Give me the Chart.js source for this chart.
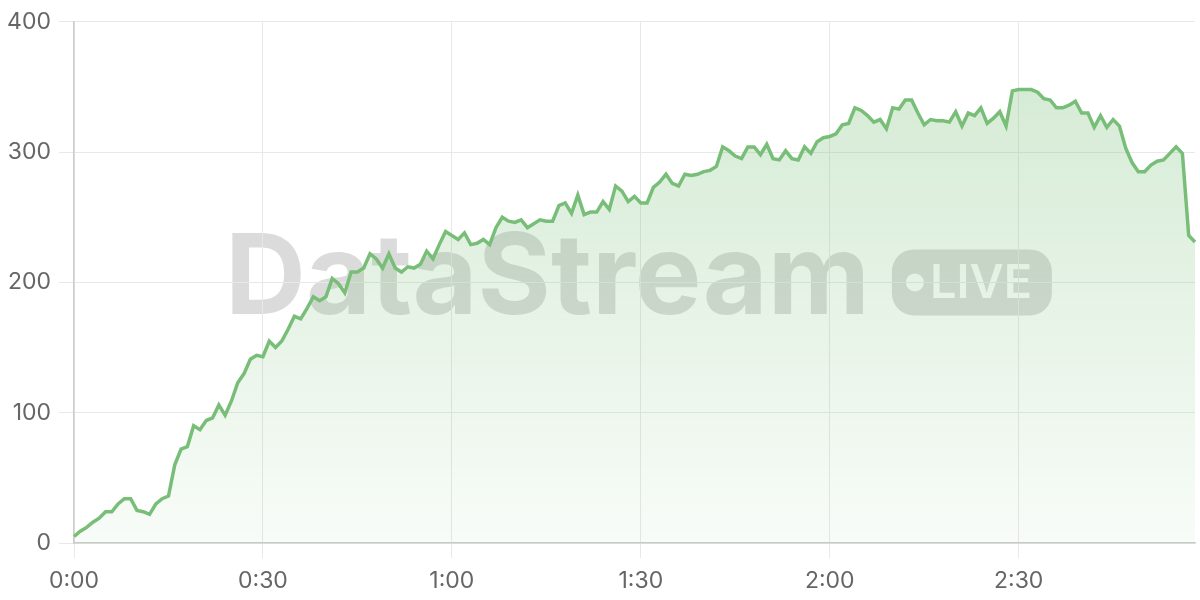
<!DOCTYPE html>
<html>
<head>
<meta charset="utf-8">
<script src="https://cdn.jsdelivr.net/npm/chart.js@4/dist/chart.umd.min.js"></script>
<style>
  html, body { margin: 0; padding: 0; background: #fff; }
  #wrap { width: 1200px; height: 600px; position: relative; }
</style>
</head>
<body>
<div id="wrap"><canvas id="chart"></canvas></div>
<script>
// one reading per minute, 0:00 .. 2:58
var viewers = [
  5, 9, 12, 16, 19, 24, 24, 30, 34, 34, 25, 24, 22, 30, 34, 36, 60, 72, 74, 90,
  87, 94, 96, 106, 98, 109, 123, 130, 141, 144, 143, 155, 150, 155, 164, 174, 172, 180, 189, 186,
  189, 203, 199, 192, 208, 208, 211, 222, 218, 211, 222, 211, 208, 212, 211, 214, 224, 218, 229, 239,
  236, 233, 238, 229, 230, 233, 229, 242, 250, 247, 246, 248, 242, 245, 248, 247, 247, 259, 261, 253,
  267, 252, 254, 254, 262, 256, 274, 270, 262, 266, 261, 261, 273, 277, 283, 276, 274, 283, 282, 283,
  285, 286, 289, 304, 301, 297, 295, 304, 304, 298, 306, 295, 294, 301, 295, 294, 304, 299, 308, 311,
  312, 314, 321, 322, 334, 332, 328, 323, 325, 318, 334, 333, 340, 340, 330, 321, 325, 324, 324, 323,
  331, 320, 330, 328, 334, 322, 326, 331, 320, 347, 348, 348, 348, 346, 341, 340, 334, 334, 336, 339,
  330, 330, 319, 328, 319, 325, 320, 303, 292, 285, 285, 290, 293, 294, 299, 304, 299, 236, 231
];
var xTickLabels = ['0:00', '0:30', '1:00', '1:30', '2:00', '2:30'];
var xTickEvery = 30;
var yTicks = [0, 100, 200, 300, 400];

var minutes = viewers.map(function (v, i) { return i; });

var lineColor = 'rgb(120, 190, 120)';
var gridColor = '#e8e8e8';
var axisColor = '#cccccc';
var textColor = '#666';

var watermark = {
  id: 'watermark',
  beforeDraw: function (chart) {
    var ctx = chart.ctx, a = chart.chartArea;
    var cx = (a.left + a.right) / 2 + 4, cy = (a.top + a.bottom) / 2;
    ctx.save();
    ctx.font = 'bold 112px Inter';
    var tw = ctx.measureText('DataStream').width;
    var gap = 22, pw = 160, ph = 66;
    var x0 = cx - (tw + gap + pw) / 2;
    ctx.fillStyle = 'rgba(0,0,0,0.14)';
    ctx.textBaseline = 'middle';
    ctx.fillText('DataStream', x0, cy - 2);
    var px = x0 + tw + gap, py = cy - ph / 2;
    ctx.beginPath();
    ctx.roundRect(px, py, pw, ph, 22);
    ctx.fill();
    ctx.globalCompositeOperation = 'destination-out';
    ctx.fillStyle = 'rgba(0,0,0,1)';
    ctx.beginPath();
    ctx.arc(px + 23, cy, 9, 0, Math.PI * 2);
    ctx.fill();
    ctx.font = '600 47px Inter';
    ctx.fillText('LIVE', px + 38, cy + 1);
    ctx.restore();
  }
};

var ctx = document.getElementById('chart').getContext('2d');
new Chart(ctx, {
  type: 'line',
  data: {
    labels: minutes,
    datasets: [{
      data: viewers,
      borderColor: lineColor,
      borderWidth: 3.5,
      pointRadius: 0,
      tension: 0,
      fill: 'origin',
      backgroundColor: function (c) {
        var a = c.chart.chartArea;
        if (!a) return 'rgba(120,190,120,0.2)';
        var g = c.chart.ctx.createLinearGradient(0, a.top, 0, a.bottom);
        g.addColorStop(0, 'rgba(120,190,120,0.34)');
        g.addColorStop(1, 'rgba(120,190,120,0.05)');
        return g;
      }
    }]
  },
  options: {
    responsive: true,
    maintainAspectRatio: false,
    animation: false,
    layout: { padding: { top: 19, right: 5, left: 0, bottom: 0 } },
    plugins: { legend: { display: false }, tooltip: { enabled: false } },
    scales: {
      x: {
        grid: { color: gridColor, tickLength: 15, tickColor: gridColor },
        border: { color: axisColor, width: 1.5 },
        ticks: {
          autoSkip: false, maxRotation: 0, padding: 9,
          color: textColor, font: { family: 'Inter', size: 23 },
          callback: function (v, i) {
            return i % xTickEvery === 0 ? xTickLabels[i / xTickEvery] : null;
          }
        },
        afterFit: function (s) { s.height = 57; }
      },
      y: {
        min: yTicks[0], max: yTicks[yTicks.length - 1],
        grid: { color: gridColor, tickLength: 15, tickColor: gridColor },
        border: { color: axisColor, width: 1.5 },
        afterBuildTicks: function (s) { s.ticks = yTicks.map(function (v) { return { value: v }; }); },
        ticks: { padding: 8, color: textColor, font: { family: 'Inter', size: 23 } },
        afterFit: function (s) { s.width = 74; }
      }
    }
  },
  plugins: [watermark]
});
</script>
</body>
</html>
